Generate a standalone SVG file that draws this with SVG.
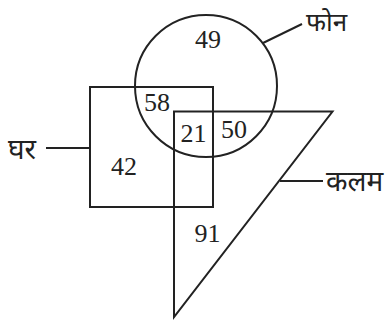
<svg xmlns="http://www.w3.org/2000/svg" width="391" height="324" viewBox="0 0 391 324">
<style>
.s{fill:none;stroke:#222;stroke-width:2}
.n{font-family:"Liberation Serif",serif;font-size:26px;fill:#222;text-anchor:middle}
.h{font-family:"Noto Sans","Noto Sans Devanagari","Lohit Devanagari",sans-serif;font-size:28px;fill:#222}
</style>
<rect width="391" height="324" fill="#fff"/>
<g id="phone"><circle class="s" cx="206" cy="86" r="71"/></g>
<g id="home"><rect class="s" x="90" y="87" width="123" height="120"/></g>
<g id="pen"><polygon class="s" points="174,111.5 332.5,111.5 174,317"/></g>
<g id="connectors">
<line class="s" x1="263" y1="43" x2="302" y2="24"/>
<line class="s" x1="46" y1="148" x2="90" y2="148"/>
<line class="s" x1="280" y1="181" x2="323" y2="181"/>
</g>
<g id="labels">
<text class="h" x="306" y="31" style="font-size:26px">फोन</text>
<text class="h" x="8" y="159">घर</text>
<text class="h" x="326" y="191">कलम</text>
</g>
<g id="numbers">
<text class="n" x="208" y="48">49</text>
<text class="n" x="157" y="111">58</text>
<text class="n" x="193.5" y="142">21</text>
<text class="n" x="234" y="138">50</text>
<text class="n" x="124" y="175">42</text>
<text class="n" x="207.5" y="242">91</text>
</g>
</svg>
